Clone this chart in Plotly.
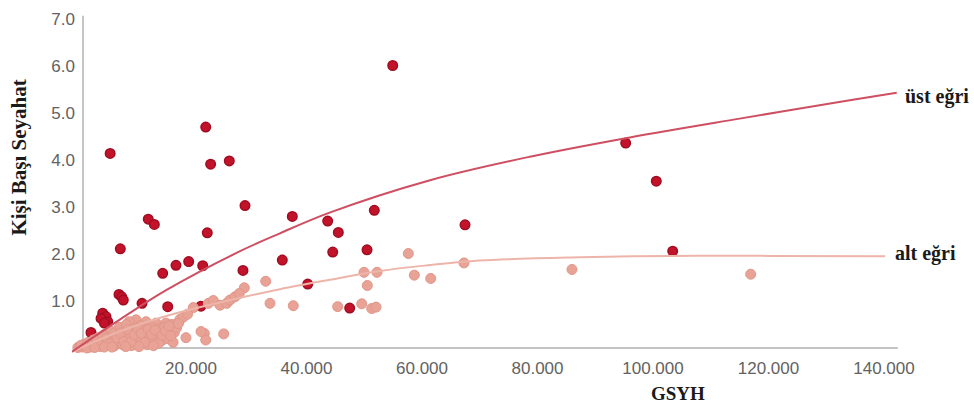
import plotly.graph_objects as go

# GDP per capita (GSYH) vs trips per person (Kişi Başı Seyahat)
dark_x = [6000, 22550, 23400, 26630, 12600, 13650, 29350, 37540, 22820, 7760,
          35810, 15100, 17400, 19600, 22030, 29000, 44540, 7530, 8000, 8280,
          4710, 5280, 4420, 5580, 4990, 2680, 11520, 15970, 21730, 40210,
          47480, 54930, 43670, 45510, 51740, 67450, 50480, 95270, 100570, 103410,
          10180]
dark_y = [4.14, 4.70, 3.91, 3.98, 2.74, 2.63, 3.03, 2.80, 2.45, 2.11,
          1.87, 1.59, 1.76, 1.84, 1.75, 1.65, 2.04, 1.14, 1.09, 1.02,
          0.74, 0.67, 0.63, 0.56, 0.53, 0.33, 0.95, 0.88, 0.89, 1.36,
          0.85, 6.01, 2.70, 2.46, 2.93, 2.62, 2.09, 4.36, 3.55, 2.06,
          0.47]

light_x = [29230, 32940, 33680, 37710, 45400, 49560, 51290, 52040, 25660, 22300,
           22550, 19130, 17920, 10480, 57630, 67270, 85970, 49960, 52210, 50530,
           58670, 61510, 116920, 20400, 23000, 23860, 25020, 26180, 26750, 27620,
           28360, 12210, 13940, 15670, 9320, 21730,
           400, 800, 1200, 1500, 1900, 2200, 2500, 2800, 3100, 3400,
           3700, 4000, 4300, 4600, 4900, 5200, 5500, 5800, 6100, 6400,
           6700, 7000, 7300, 7600, 7900, 8200, 8500, 8800, 9100, 9400,
           9700, 10000, 10300, 10600, 10900, 11200, 11500, 11800, 12100, 12400,
           12700, 13000, 13300, 13600, 13900, 14200, 14500, 14800, 15100, 15400,
           15700, 16000, 16300, 16700, 16900, 17100, 17500, 18100, 18700, 19400,
           1000, 1700, 2400, 3000, 3600, 4200, 4800, 5400, 6000, 6600,
           7200, 7800, 8400, 9000, 9600, 10200, 10800, 11400, 12000, 12600,
           13200, 13800, 14400, 15000, 15600, 16200, 2000, 3300, 5000, 6300,
           8700, 11000, 13500, 16500, 17800]
light_y = [1.28, 1.42, 0.95, 0.90, 0.88, 0.94, 0.84, 0.87, 0.30, 0.31,
           0.17, 0.22, 0.56, 0.60, 2.01, 1.81, 1.67, 1.61, 1.61, 1.33,
           1.55, 1.48, 1.57, 0.86, 0.95, 1.01, 0.91, 0.95, 1.02, 1.09,
           1.16, 0.56, 0.53, 0.53, 0.56, 0.35,
           0.01, 0.04, 0.02, 0.08, 0.05, 0.12, 0.02, 0.09, 0.17, 0.05,
           0.13, 0.22, 0.03, 0.10, 0.18, 0.30, 0.07, 0.15, 0.36, 0.24,
           0.04, 0.12, 0.30, 0.44, 0.20, 0.07, 0.34, 0.50, 0.16, 0.27,
           0.05, 0.40, 0.22, 0.11, 0.32, 0.48, 0.18, 0.40, 0.27, 0.07,
           0.35, 0.45, 0.21, 0.13, 0.31, 0.41, 0.25, 0.37, 0.17, 0.44,
           0.29, 0.20, 0.39, 0.50, 0.12, 0.33, 0.43, 0.61, 0.66, 0.72,
           0.06, 0.03, 0.08, 0.13, 0.19, 0.09, 0.27, 0.21, 0.09, 0.31,
           0.22, 0.32, 0.14, 0.39, 0.13, 0.29, 0.42, 0.31, 0.12, 0.40,
           0.29, 0.38, 0.10, 0.27, 0.36, 0.47, 0.00, 0.01, 0.02, 0.02,
           0.03, 0.03, 0.05, 0.26, 0.52]

# upper and lower envelope curves
upper_x = [-600, 8000, 15700, 28500, 35400, 44000, 61400, 78700, 96000, 115000, 134600, 142200]
upper_y = [-0.08, 0.63, 1.23, 2.06, 2.44, 2.88, 3.57, 4.07, 4.48, 4.88, 5.28, 5.43]
lower_x = [-600, 8000, 17400, 26800, 35400, 44000, 52700, 61000, 70000, 87400, 103400, 120000, 140200]
lower_y = [-0.08, 0.37, 0.74, 1.02, 1.25, 1.45, 1.64, 1.76, 1.86, 1.93, 1.96, 1.96, 1.95]

y_ticks = [1, 2, 3, 4, 5, 6, 7]
y_tick_text = ["1.0", "2.0", "3.0", "4.0", "5.0", "6.0", "7.0"]
x_ticks = [20000, 40000, 60000, 80000, 100000, 120000, 140000]
x_tick_text = ["20.000", "40.000", "60.000", "80.000", "100.000", "120.000", "140.000"]

DARK = "#C3132B"
DARK_EDGE = "#A00C20"
LIGHT = "#E9A396"
LIGHT_EDGE = "#E0978A"

fig = go.Figure()
fig.add_trace(go.Scatter(x=dark_x, y=dark_y, mode="markers",
                         marker=dict(size=9.5, color=DARK, line=dict(color=DARK_EDGE, width=1.5)),
                         showlegend=False, hoverinfo="x+y"))
fig.add_trace(go.Scatter(x=light_x, y=light_y, mode="markers",
                         marker=dict(size=10, color=LIGHT, line=dict(color=LIGHT_EDGE, width=1)),
                         showlegend=False, hoverinfo="x+y"))
fig.add_trace(go.Scatter(x=lower_x, y=lower_y, mode="lines",
                         line=dict(color="#EDB5AA", width=2, shape="spline", smoothing=1.0),
                         showlegend=False, hoverinfo="skip"))
fig.add_trace(go.Scatter(x=upper_x, y=upper_y, mode="lines",
                         line=dict(color="#CF4F62", width=2, shape="spline", smoothing=1.0),
                         showlegend=False, hoverinfo="skip"))

axis_color = "#C4C4C4"
fig.add_shape(type="line", x0=1300, x1=1300, y0=0, y1=7.07, xref="x", yref="y",
              line=dict(color=axis_color, width=2), layer="below")
fig.add_shape(type="line", x0=1300, x1=142400, y0=0, y1=0, xref="x", yref="y",
              line=dict(color=axis_color, width=2), layer="below")

tick_font = dict(family="Liberation Sans, Arial, sans-serif", size=17, color="#626262")
serif = "Liberation Serif, Times New Roman, serif"

fig.update_layout(
    width=974, height=411,
    margin=dict(l=72, r=74, t=10, b=55),
    paper_bgcolor="white", plot_bgcolor="white",
    xaxis=dict(range=[-606, 142771], showgrid=False, zeroline=False, showline=False,
               tickvals=x_ticks, ticktext=x_tick_text, tickfont=tick_font, ticks=""),
    yaxis=dict(range=[-0.170, 7.191], showgrid=False, zeroline=False, showline=False,
               tickvals=y_ticks, ticktext=y_tick_text, tickfont=tick_font, ticks="",
               ticklabelstandoff=-4),
    annotations=[
        dict(text="<b>Kişi Başı Seyahat</b>", xref="paper", yref="paper", x=-0.0634, y=0.572,
             xanchor="center", yanchor="middle",
             textangle=-90, showarrow=False, font=dict(family=serif, size=21, color="#1A1A1A")),
        dict(text="<b>GSYH</b>", xref="paper", yref="paper", x=0.732, y=-0.107,
             xanchor="center", yanchor="middle",
             showarrow=False, font=dict(family=serif, size=19, color="#1A1A1A")),
        dict(text="<b>üst eğri</b>", xref="paper", yref="paper", x=1.0036, y=0.749,
             xanchor="left", yanchor="middle", showarrow=False,
             font=dict(family=serif, size=20, color="#1A1A1A")),
        dict(text="<b>alt eğri</b>", xref="paper", yref="paper", x=0.9915, y=0.295,
             xanchor="left", yanchor="middle", showarrow=False,
             font=dict(family=serif, size=20, color="#1A1A1A")),
    ],
)

fig.write_html("out.html")
